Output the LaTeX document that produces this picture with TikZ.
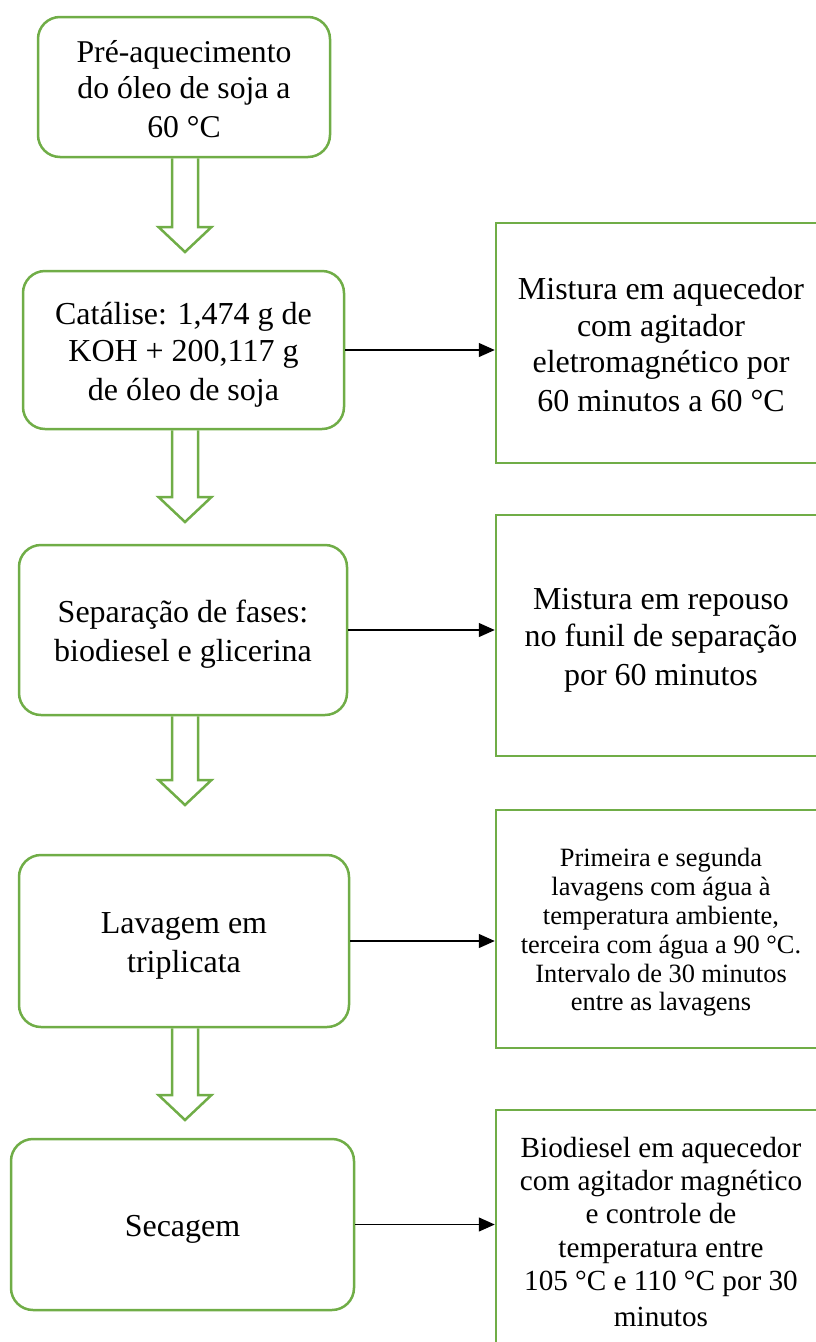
\documentclass[tikz,border=0pt]{standalone}
\usepackage{fontspec}
\setmainfont{Liberation Serif}
\usetikzlibrary{arrows.meta,calc}
\definecolor{leafgreen}{HTML}{70AD47}
\newcommand{\ls}{\rule[\dimexpr0.97em-\baselineskip\relax]{0pt}{\baselineskip}}
\tikzstyle{base} = [rectangle, draw=leafgreen, line width=2.5pt, text centered, align=center, inner sep=0pt]
\tikzstyle{stage} = [base, rounded corners=22pt, font=\fontsize{32}{37}\selectfont]
\tikzstyle{detail} = [base, minimum width=330pt, minimum height=240pt, font=\fontsize{32}{36.7}\selectfont]
\tikzstyle{flow} = [draw=leafgreen, line width=2.5pt, line join=miter]
\tikzstyle{link} = [-{Triangle[length=16pt,width=14pt]}, line width=1.3pt]
\newcommand{\bigarrow}[2]{\draw[flow] let \p1=(#1.south), \p2=(#2) in (\x2-13pt,\y1) -- (\x2-13pt,\y2+25pt) -- (\x2-26.5pt,\y2+25pt) -- (\x2,\y2) -- (\x2+26.5pt,\y2+25pt) -- (\x2+13pt,\y2+25pt) -- (\x2+13pt,\y1);}

\begin{document}
\begin{tikzpicture}[x=1pt, y=-1pt]
    \useasboundingbox (0,0) rectangle (816,1342);
    \clip (0,0) rectangle (816,1342);
    \node (pre) [stage, minimum width=292pt, minimum height=140pt, font=\fontsize{31.7}{36}\selectfont] at (184,87) {\ls Pré-aquecimento\\do óleo de soja a\\60 °C\ls};
    \node (cat) [stage, minimum width=321pt, minimum height=158pt] at (183.5,350) {\ls Catálise: 1,474 g de\\KOH + 200,117 g\\de óleo de soja\ls};
    \node (sep) [stage, minimum width=328pt, minimum height=170pt] at (183,630) {\ls Separação de fases:\\biodiesel e glicerina\ls};
    \node (wash) [stage, minimum width=330pt, minimum height=172pt] at (184,941) {\ls Lavagem em\\triplicata\ls};
    \node (dry) [stage, minimum width=343pt, minimum height=171pt] at (182.5,1224.5) {\ls Secagem\ls};
    \node (mix) [detail] at (661,343) {\ls Mistura em aquecedor\\com agitador\\eletromagnético por\\60 minutos a 60 °C\ls};
    \node (rest) [detail, minimum height=241pt] at (661,635.5) {\ls Mistura em repouso\\no funil de separação\\por 60 minutos\ls};
    \node (rinse) [detail, minimum height=238pt, font=\fontsize{26.4}{28.8}\selectfont] at (661,929) {\ls Primeira e segunda\\lavagens com água à\\temperatura ambiente,\\terceira com água a 90 °C.\\Intervalo de 30 minutos\\entre as lavagens\ls};
    \node (heat) [detail, font=\fontsize{29.2}{33.4}\selectfont] at (661,1230) {\ls Biodiesel em aquecedor\\com agitador magnético\\e controle de\\temperatura entre\\105 °C e 110 °C por 30\\minutos\ls};
    \coordinate (tip1) at (185,252);
    \coordinate (tip2) at (185,522);
    \coordinate (tip3) at (185,805);
    \coordinate (tip4) at (185,1120);

    \bigarrow{pre}{tip1}
    \bigarrow{cat}{tip2}
    \bigarrow{sep}{tip3}
    \bigarrow{wash}{tip4}
    \draw[link] (cat.east) -- (cat.east -| mix.west);
    \draw[link] (sep.east) -- (sep.east -| rest.west);
    \draw[link] (wash.east) -- (wash.east -| rinse.west);
    \draw[link] (dry.east) -- (dry.east -| heat.west);
\end{tikzpicture}
\end{document}
